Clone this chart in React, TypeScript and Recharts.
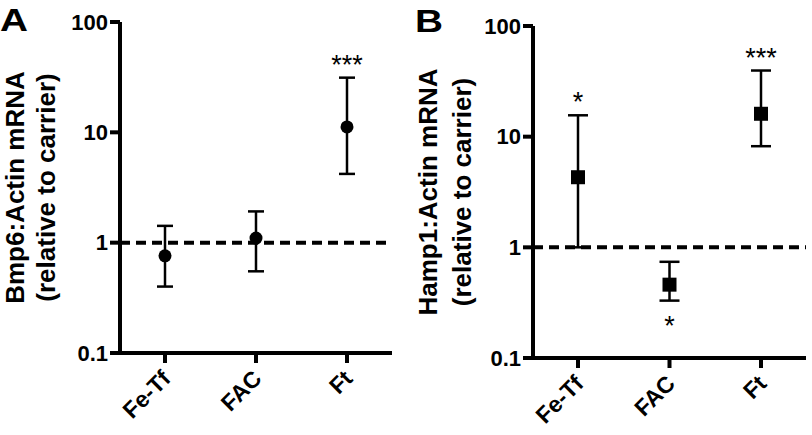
import { ComposedChart, Line, ErrorBar, XAxis, YAxis, ReferenceLine, LabelList } from 'recharts';

const treatments = ['Fe-Tf', 'FAC', 'Ft'];
const yTicks = [0.1, 1, 10, 100];

// panel A: Bmp6
const bmp6Mean = [0.76, 1.1, 11.2];
const bmp6Low = [0.4, 0.55, 4.2];
const bmp6High = [1.42, 1.92, 31.3];
const bmp6SigAbove = ['', '', '***'];
const bmp6SigBelow = ['', '', ''];

// panel B: Hamp1
const hamp1Mean = [4.3, 0.46, 16.1];
const hamp1Low = [1.0, 0.33, 8.2];
const hamp1High = [15.6, 0.74, 39.6];
const hamp1SigAbove = ['*', '', '***'];
const hamp1SigBelow = ['', '*', ''];

const FONT = '"Liberation Sans", Arial, sans-serif';

const buildRows = (mean: number[], low: number[], high: number[], up: string[], down: string[]) =>
  treatments.map((t, i) => ({
    name: t,
    mean: mean[i],
    low: low[i],
    high: high[i],
    err: [mean[i] - low[i], high[i] - mean[i]],
    up: up[i],
    down: down[i],
  }));

const XTick = ({ x, y, payload }: any) => {
  const ax = x + 7;
  const ay = y + 15;
  return (
    <text
      x={ax}
      y={ay}
      transform={`rotate(-45 ${ax} ${ay})`}
      textAnchor="end"
      fontSize={23}
      fontWeight="bold"
      fontFamily={FONT}
      fill="#000"
    >
      {payload.value}
    </text>
  );
};

const YTitle = ({ viewBox, lines, first, second }: any) => {
  const cy = viewBox.y + viewBox.height / 2;
  const axisX = viewBox.x + viewBox.width;
  const x1 = axisX - first;
  const x2 = axisX - second;
  return (
    <g fontFamily={FONT} fontWeight="bold" fontSize={26} fill="#000">
      <text x={x1} y={cy} transform={`rotate(-90 ${x1} ${cy})`} textAnchor="middle">
        {lines[0]}
      </text>
      <text x={x2} y={cy} transform={`rotate(-90 ${x2} ${cy})`} textAnchor="middle">
        {lines[1]}
      </text>
    </g>
  );
};

const Star = ({ x, y, value, below }: any) => {
  if (!value) return null;
  return (
    <text
      x={x}
      y={below ? y + 34 : y - 4}
      textAnchor="middle"
      fontSize={27}
      fontFamily={FONT}
      fill="#000"
    >
      {value}
    </text>
  );
};

type PanelProps = {
  rows: any[];
  marker: 'circle' | 'square';
  title: string[];
  width: number;
  top: number;
  right: number;
  yAxisWidth: number;
  xAxisHeight: number;
  pad: number;
  cap: number;
  titleOffsets: number[];
};

function Panel({ rows, marker, title, width, top, right, yAxisWidth, xAxisHeight, pad, cap, titleOffsets }: PanelProps) {
  const drawMarker = (p: any) => {
    if (p.cx == null || p.cy == null) return <g key={p.index} />;
    if (marker === 'circle') return <circle key={p.index} cx={p.cx} cy={p.cy} r={6.5} fill="#000" />;
    return <rect key={p.index} x={p.cx - 7} y={p.cy - 7} width={14} height={14} fill="#000" />;
  };

  return (
    <ComposedChart
      width={width}
      height={435}
      data={rows}
      margin={{ top, right, bottom: 0, left: 0 }}
    >
      <XAxis
        dataKey="name"
        height={xAxisHeight}
        padding={{ left: pad, right: pad }}
        axisLine={{ stroke: '#000', strokeWidth: 4 }}
        tickLine={{ stroke: '#000', strokeWidth: 4 }}
        tickSize={10}
        tick={<XTick />}
        interval={0}
      />
      <YAxis
        scale="log"
        domain={[0.1, 100]}
        ticks={yTicks}
        allowDataOverflow
        width={yAxisWidth}
        axisLine={{ stroke: '#000', strokeWidth: 4 }}
        tickLine={{ stroke: '#000', strokeWidth: 4 }}
        tickSize={10}
        tickMargin={2}
        tickFormatter={(v: number) => String(v)}
        tick={{ fill: '#000', fontSize: 22, fontWeight: 'bold', fontFamily: FONT }}
        label={{ content: (p: any) => <YTitle {...p} lines={title} first={titleOffsets[0]} second={titleOffsets[1]} /> }}
      />
      <ReferenceLine y={1} stroke="#000" strokeWidth={4} strokeDasharray="10 6" />
      <Line
        dataKey="mean"
        stroke="none"
        dot={drawMarker}
        activeDot={false}
        isAnimationActive={false}
      >
        <ErrorBar dataKey="err" direction="y" width={cap} stroke="#000" strokeWidth={2.5} isAnimationActive={false} />
      </Line>
      <Line dataKey="high" stroke="none" dot={false} activeDot={false} isAnimationActive={false}>
        <LabelList dataKey="up" content={(p: any) => <Star {...p} />} />
      </Line>
      <Line dataKey="low" stroke="none" dot={false} activeDot={false} isAnimationActive={false}>
        <LabelList dataKey="down" content={(p: any) => <Star {...p} below />} />
      </Line>
    </ComposedChart>
  );
}

const letterStyle: React.CSSProperties = {
  position: 'absolute',
  fontFamily: FONT,
  fontWeight: 'bold',
  fontSize: 31,
  lineHeight: 1,
  color: '#000',
  transform: 'scaleX(1.25)',
  transformOrigin: 'left top',
};

export default function App() {
  const rowsA = buildRows(bmp6Mean, bmp6Low, bmp6High, bmp6SigAbove, bmp6SigBelow);
  const rowsB = buildRows(hamp1Mean, hamp1Low, hamp1High, hamp1SigAbove, hamp1SigBelow);
  return (
    <div style={{ position: 'absolute', left: 0, top: 0, width: 812, height: 435, background: '#fff', overflow: 'hidden' }}>
      <div style={{ position: 'absolute', left: 0, top: 0 }}>
        <Panel
          rows={rowsA}
          marker="circle"
          title={['Bmp6:Actin mRNA', '(relative to carrier)']}
          width={400}
          top={22}
          right={8}
          yAxisWidth={120}
          xAxisHeight={82}
          pad={45}
          cap={8}
          titleOffsets={[96, 65]}
        />
      </div>
      <div style={{ position: 'absolute', left: 400, top: 0 }}>
        <Panel
          rows={rowsB}
          marker="square"
          title={['Hamp1:Actin mRNA', '(relative to carrier)']}
          width={412}
          top={26}
          right={6}
          yAxisWidth={133}
          xAxisHeight={77}
          pad={45}
          cap={10}
          titleOffsets={[96, 62]}
        />
      </div>
      <div style={{ ...letterStyle, left: 0, top: 5 }}>A</div>
      <div style={{ ...letterStyle, left: 415, top: 6 }}>B</div>
    </div>
  );
}
